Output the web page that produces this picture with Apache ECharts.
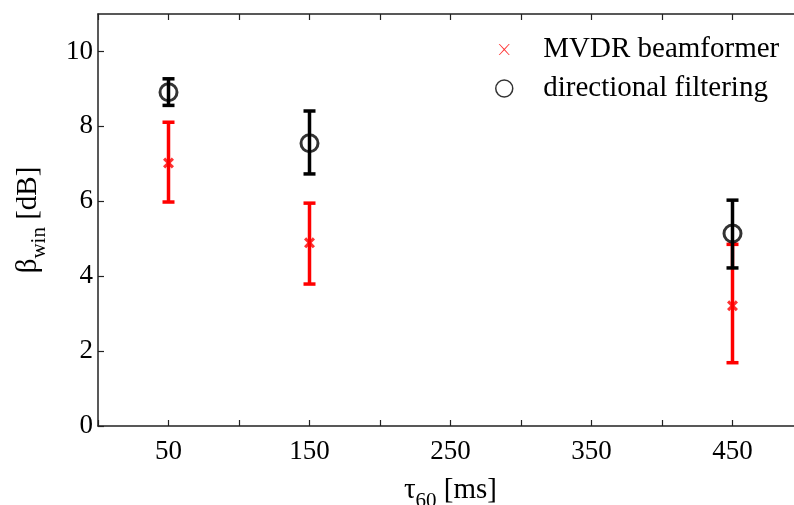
<!DOCTYPE html>
<html>
<head>
<meta charset="utf-8">
<script src="https://cdn.jsdelivr.net/npm/echarts@6/dist/echarts.min.js"></script>
<style>
  html, body { margin: 0; padding: 0; background: #fff; }
  #box { width: 794px; height: 505px; }
</style>
</head>
<body>
<div id="box"></div>
<script>
// reverberation times (x)
var tau = [50, 150, 450];
// MVDR beamformer: mean and error bar ends
var mvdrMean = [7.02, 4.89, 3.21];
var mvdrLow = [5.98, 3.79, 1.69];
var mvdrHigh = [8.11, 5.95, 4.85];
// directional filtering
var dirMean = [8.91, 7.55, 5.14];
var dirLow = [8.56, 6.73, 4.22];
var dirHigh = [9.27, 8.41, 6.03];
// axis ticks
var xLabelled = [50, 150, 250, 350, 450];

var FONT = 'Liberation Serif';
var AX = '#222';
// thick cross for the plot, thin padded cross for the legend
var crossBold = 'path://M0,2 L2,0 L5,3 L8,0 L10,2 L7,5 L10,8 L8,10 L5,7 L2,10 L0,8 L3,5 Z';
var crossThin = 'path://M-2.7,-2.7 M12.7,12.7 M0,0 L0.9,0 L5,4.3 L9.1,0 L10,0 L5.6,5 L10,10 L9.1,10 L5,5.7 L0.9,10 L0,10 L4.4,5 Z';

function errorBar(color) {
    return function (params, api) {
        var x = api.value(0);
        var lo = api.coord([x, api.value(1)]);
        var hi = api.coord([x, api.value(2)]);
        var hw = 6;
        var st = {stroke: color, lineWidth: 3.5};
        return {
            type: 'group',
            children: [
                {type: 'line', shape: {x1: lo[0], y1: lo[1], x2: hi[0], y2: hi[1]}, style: st},
                {type: 'line', shape: {x1: lo[0] - hw, y1: lo[1], x2: lo[0] + hw, y2: lo[1]}, style: st},
                {type: 'line', shape: {x1: hi[0] - hw, y1: hi[1], x2: hi[0] + hw, y2: hi[1]}, style: st}
            ]
        };
    };
}

var chart = echarts.init(document.getElementById('box'));
var option = {
    animation: false,
    textStyle: {fontFamily: FONT, color: '#000'},
    grid: {left: 98, top: 14, right: -9, bottom: 79, outerBoundsMode: 'none', containLabel: false},
    legend: {
        orient: 'vertical',
        left: 490,
        top: 30,
        itemWidth: 68,
        itemHeight: 17,
        itemGap: 10,
        textStyle: {fontFamily: FONT, fontSize: 29, color: '#000'},
        data: [
            {name: 'MVDR beamformer', icon: crossThin, itemStyle: {color: '#ff0000', borderWidth: 0}},
            {name: 'directional filtering', icon: 'circle', itemStyle: {color: '#fff', borderColor: '#000', borderWidth: 1.5}}
        ]
    },
    xAxis: [{
        type: 'value',
        min: 0, max: 500, interval: 50,
        name: '{b|τ}{s|60}{b| [ms]}',
        nameLocation: 'middle',
        nameGap: 50,
        nameTextStyle: {
            rich: {
                b: {fontFamily: FONT, fontSize: 29, color: '#000', verticalAlign: 'top', lineHeight: 36},
                s: {fontFamily: FONT, fontSize: 21, color: '#000', verticalAlign: 'bottom', lineHeight: 36}
            }
        },
        splitLine: {show: false},
        axisLine: {lineStyle: {color: AX, width: 1.5}},
        axisTick: {inside: true, length: 6, lineStyle: {color: AX, width: 1.2}},
        axisLabel: {
            fontFamily: FONT, fontSize: 27, color: '#000', margin: 12,
            formatter: function (v) { return xLabelled.indexOf(v) >= 0 ? String(v) : ''; }
        }
    }, {
        type: 'value',
        position: 'top',
        min: 0, max: 500, interval: 50,
        splitLine: {show: false},
        axisLine: {lineStyle: {color: AX, width: 1.5}},
        axisTick: {inside: true, length: 6, lineStyle: {color: AX, width: 1.2}},
        axisLabel: {show: false}
    }],
    yAxis: {
        type: 'value',
        min: 0, max: 11, interval: 2,
        name: '{b|β}{s|win}{b| [dB]}',
        nameLocation: 'middle',
        nameGap: 48,
        nameRotate: 90,
        nameTextStyle: {
            rich: {
                b: {fontFamily: FONT, fontSize: 29, color: '#000', verticalAlign: 'top', lineHeight: 36},
                s: {fontFamily: FONT, fontSize: 21, color: '#000', verticalAlign: 'bottom', lineHeight: 36}
            }
        },
        splitLine: {show: false},
        axisLine: {show: true, lineStyle: {color: AX, width: 1.5}},
        axisTick: {show: true, inside: true, length: 6, lineStyle: {color: AX, width: 1.2}},
        axisLabel: {fontFamily: FONT, fontSize: 27, color: '#000', margin: 5, showMaxLabel: false}
    },
    series: [
        {
            type: 'custom',
            renderItem: errorBar('#ff0000'),
            encode: {x: 0, y: [1, 2]},
            data: tau.map(function (t, i) { return [t, mvdrLow[i], mvdrHigh[i]]; }),
            z: 2
        },
        {
            name: 'MVDR beamformer',
            type: 'scatter',
            symbol: crossBold,
            symbolSize: 11,
            itemStyle: {color: '#ff0000'},
            data: tau.map(function (t, i) { return [t, mvdrMean[i]]; }),
            z: 3
        },
        {
            type: 'custom',
            renderItem: errorBar('#000'),
            encode: {x: 0, y: [1, 2]},
            data: tau.map(function (t, i) { return [t, dirLow[i], dirHigh[i]]; }),
            z: 4
        },
        {
            name: 'directional filtering',
            type: 'scatter',
            symbol: 'circle',
            symbolSize: 17,
            itemStyle: {color: 'rgba(0,0,0,0)', borderColor: '#000', borderWidth: 3},
            data: tau.map(function (t, i) { return [t, dirMean[i]]; }),
            z: 5
        }
    ]
};
chart.setOption(option);
</script>
</body>
</html>
